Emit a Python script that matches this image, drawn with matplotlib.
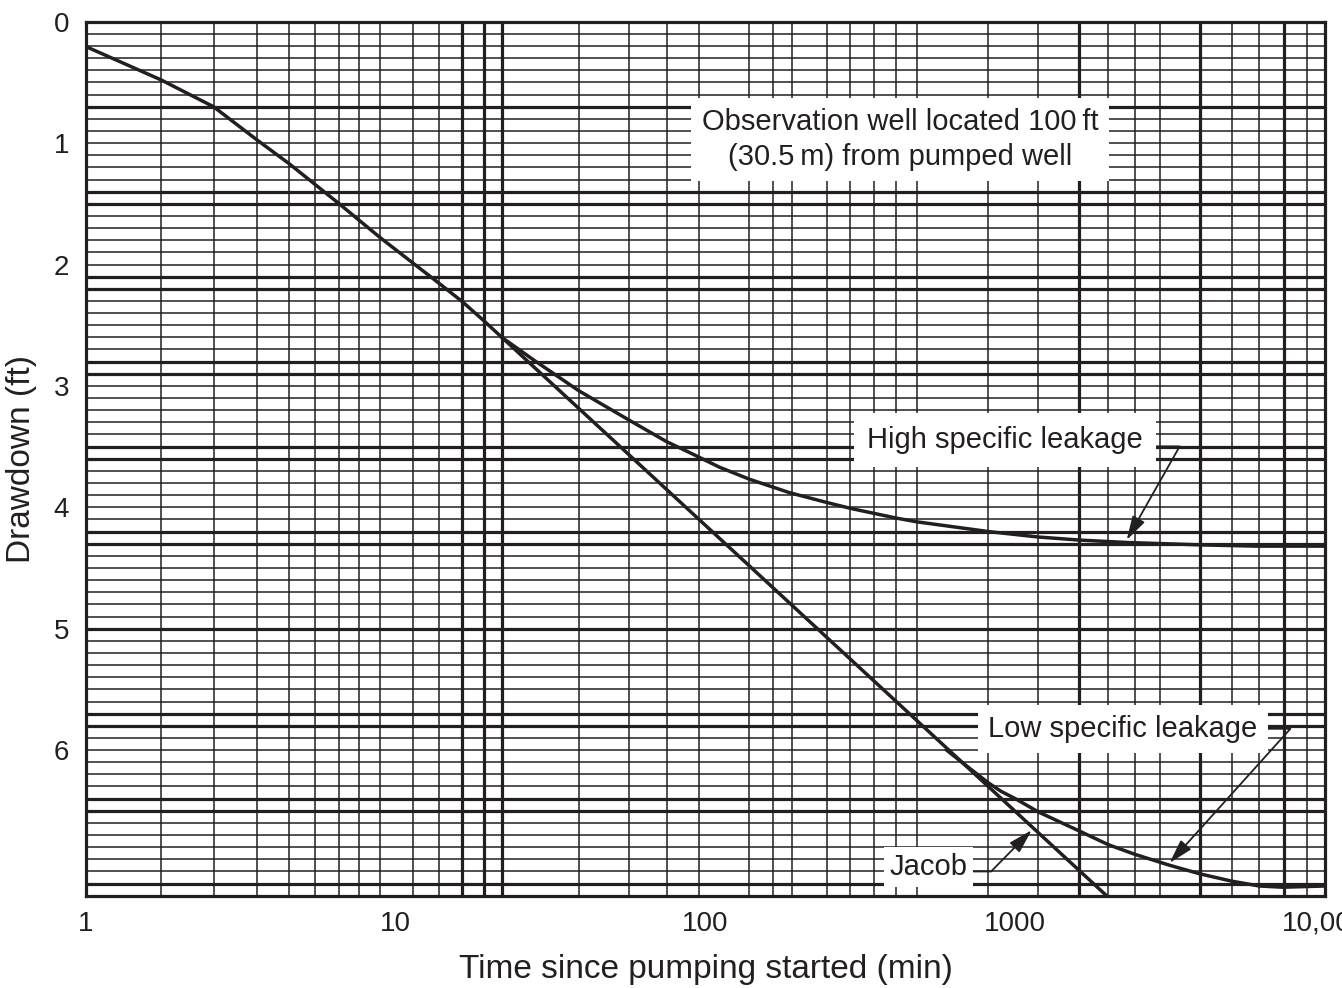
import matplotlib
matplotlib.use("Agg")
import matplotlib.pyplot as plt
from matplotlib.ticker import FixedLocator, MultipleLocator, NullFormatter

plt.rcParams['font.family'] = ['Liberation Sans', 'DejaVu Sans']

INK = '#231f20'

# drawdown curves (time in min, drawdown in ft)
t_early = [1, 1.75, 2.58, 3.57, 4.53, 6.57, 8.92, 13.8, 16.4, 19.3, 22]
s_early = [0.205, 0.48, 0.70, 0.975, 1.17, 1.50, 1.78, 2.155, 2.306, 2.466, 2.60]

t_high = [22, 28, 39, 56.5, 75, 89, 111, 139, 187, 246, 295, 415, 482, 819, 1188,
          1610, 2290, 4000, 6000, 10000]
s_high = [2.60, 2.79, 3.04, 3.28, 3.46, 3.55, 3.67, 3.77, 3.88, 3.96, 4.01, 4.09, 4.12,
          4.20, 4.245, 4.27, 4.29, 4.31, 4.32, 4.32]

t_jacob = [22, 1972]
s_jacob = [2.60, 7.20]

t_low = [600, 680, 819, 900, 1000, 1188, 1620, 2000, 2440, 3160, 3950, 5000, 6140, 7300, 10000]
s_low = [6.00, 6.11, 6.27, 6.34, 6.40, 6.51, 6.67, 6.78, 6.86, 6.95, 7.02, 7.08, 7.12, 7.13, 7.12]

x_ticks = [1, 10, 100, 1000, 10000]
x_labels = ['1', '10', '100', '1000', '10,000']
y_ticks = [0, 1, 2, 3, 4, 5, 6]

# graph paper lines (not regular log spacing on the original)
paper_x = [1.75, 2.58, 3.57, 4.53, 5.50, 6.57, 7.63, 8.92, 11.4, 13.8, 16.4, 19.3, 22.0,
           39.0, 56.5, 75.3, 95.5, 138, 165, 190, 246, 293, 349, 412, 482, 819, 1188,
           1603, 1997, 2441, 2940, 3950, 4998, 6137, 7372, 8730]
heavy_x = [16.4, 19.3, 22.0, 1603, 3950, 7372]
heavy_y = [0.7, 1.4, 1.5, 2.1, 2.2, 2.8, 2.9, 3.5, 3.6, 4.2, 4.3, 5.0,
           5.7, 5.8, 6.4, 6.5, 7.1]

fig = plt.figure(figsize=(13.42, 9.88), dpi=100)
ax = fig.add_axes([0.0641, 0.0934, 0.9232, 0.8846])

ax.set_xscale('log')
ax.set_xlim(1, 10000)
ax.set_ylim(7.2, 0)

ax.set_xticks(x_ticks)
ax.set_xticklabels(x_labels)
ax.xaxis.set_minor_locator(FixedLocator(paper_x))
ax.xaxis.set_minor_formatter(NullFormatter())
ax.set_yticks(y_ticks)
ax.yaxis.set_minor_locator(MultipleLocator(0.1))
ax.yaxis.set_minor_formatter(NullFormatter())
ax.tick_params(which='both', length=0, labelsize=20, colors=INK)
ax.tick_params(axis='x', pad=11)
ax.tick_params(axis='y', pad=12)

ax.set_axisbelow(True)
ax.grid(which='minor', axis='x', color=INK, lw=1.1)
ax.grid(which='both', axis='y', color=INK, lw=1.1)
for v in heavy_x:
    ax.axvline(v, color=INK, lw=2.3, zorder=1)
for h in heavy_y:
    ax.axhline(h, color=INK, lw=2.3, zorder=1)

for sp in ax.spines.values():
    sp.set_color(INK)
    sp.set_linewidth(2.3)

lw = 2.5
ax.plot(t_early, s_early, color=INK, lw=lw, solid_capstyle='butt')
ax.plot(t_high, s_high, color=INK, lw=lw)
ax.plot(t_jacob, s_jacob, color=INK, lw=lw, solid_capstyle='butt')
ax.plot(t_low, s_low, color=INK, lw=lw)

ax.set_xlabel('Time since pumping started (min)', fontsize=24, color=INK, labelpad=12)
ax.set_ylabel('Drawdown (ft)', fontsize=24, color=INK, labelpad=12)

box = dict(boxstyle='square,pad=0.35', fc='white', ec='none')
ax.text(0.657, 0.865, 'Observation well located 100\u2009ft\n(30.5\u2009m) from pumped well',
        transform=ax.transAxes, ha='center', va='center', fontsize=21, color=INK,
        linespacing=1.3, bbox=box, zorder=4)

arrow = dict(arrowstyle='-|>,head_length=0.7,head_width=0.2', color=INK, lw=1.3,
             shrinkA=0, shrinkB=0)

ax.annotate('High specific leakage', xy=(2290, 4.27), xycoords='data',
            xytext=(0.7417, 0.5215), textcoords='axes fraction',
            ha='center', va='center', fontsize=21, color=INK,
            bbox=dict(boxstyle='square,pad=0.45', fc='white', ec='none'),
            arrowprops=dict(arrow, relpos=(1, 0.27),
                            connectionstyle='angle,angleA=0,angleB=60.5,rad=0'),
            zorder=4)

ax.annotate('Low specific leakage', xy=(3150, 6.93), xycoords='data',
            xytext=(0.837, 0.191), textcoords='axes fraction',
            ha='center', va='center', fontsize=21, color=INK,
            bbox=dict(boxstyle='square,pad=0.35', fc='white', ec='none'),
            arrowprops=dict(arrow, relpos=(1, 0.5),
                            connectionstyle='angle,angleA=0,angleB=48,rad=0'),
            zorder=4)

ax.annotate('Jacob', xy=(1130, 6.66), xycoords='data',
            xytext=(0.680, 0.0332), textcoords='axes fraction',
            ha='center', va='center', fontsize=21, color=INK,
            bbox=dict(boxstyle='square,pad=0.2', fc='white', ec='none'),
            arrowprops=dict(arrow, relpos=(1, 0.33),
                            connectionstyle='angle,angleA=0,angleB=45.5,rad=0'),
            zorder=4)

fig.savefig('out.png', dpi=100)
